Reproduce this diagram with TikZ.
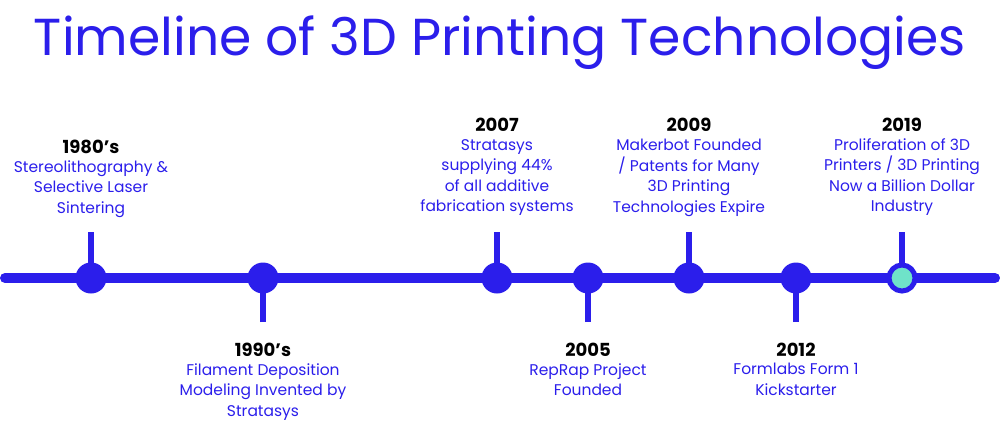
\documentclass[tikz,border=0pt]{standalone}
\usepackage{fontspec}
\setmainfont{Poppins}
\definecolor{tblue}{HTML}{2B1EEB}
\definecolor{tteal}{HTML}{6FE3C9}
\begin{document}
\begin{tikzpicture}[x=1pt,y=-1pt,
  dot/.style={circle,fill=tblue,minimum size=31pt,inner sep=0pt},
  yr/.style={font=\fontsize{18}{20.5}\selectfont\bfseries,text=black,inner sep=0pt,anchor=base},
  lbl/.style={font=\fontsize{15.5}{20.5}\selectfont,text=tblue,align=center,inner sep=0pt,anchor=north}]
\useasboundingbox (0,0) rectangle (1000,445);
\node[font=\fontsize{52}{55}\selectfont,text=tblue,anchor=base] (title) at (500,55) {Timeline of 3D Printing Technologies};
\draw[tblue,line width=10pt,line cap=round] (5,278) coordinate (L) -- (995,278) coordinate (R);
\foreach \n/\x/\ys in {a/91/232,c/497/232,e/689/232,g/902/232,b/263/322,d/588/322,f/796/322}{
  \coordinate (s\n) at (\x,\ys);
  \draw[tblue,line width=6pt] (s\n) -- (\x,278);
}
\node[dot] (da) at (91,278) {};
\node[dot] (db) at (263,278) {};
\node[dot] (dc) at (497,278) {};
\node[dot] (dd) at (588,278) {};
\node[dot] (de) at (689,278) {};
\node[dot] (df) at (796,278) {};
\node[circle,fill=tteal,draw=tblue,line width=5pt,minimum size=26pt,inner sep=0pt] (dg) at (902,278) {};
% labels
\node[yr] (ya) at (91,153) {1980’s};
\node[lbl] (la) at (91,160) {Stereolithography \&\\Selective Laser\\Sintering};
\node[yr] (yc) at (497,131) {2007};
\node[lbl] (lc) at (497,139) {Stratasys\\supplying 44\%\\of all additive\\fabrication systems};
\node[yr] (ye) at (689,131) {2009};
\node[lbl] (le) at (689,139) {Makerbot Founded\\/ Patents for Many\\3D Printing\\Technologies Expire};
\node[yr] (yg) at (902,131) {2019};
\node[lbl] (lg) at (902,138) {Proliferation of 3D\\Printers / 3D Printing\\Now a Billion Dollar\\Industry};
\node[yr] (yb) at (263,356) {1990’s};
\node[lbl] (lb) at (263,363) {Filament Deposition\\Modeling Invented by\\Stratasys};
\node[yr] (yd) at (588,356) {2005};
\node[lbl] (ld) at (588,363) {RepRap Project\\Founded};
\node[yr] (yf) at (796,356) {2012};
\node[lbl] (lf) at (796,363) {Formlabs Form 1\\Kickstarter};
\end{tikzpicture}
\end{document}
